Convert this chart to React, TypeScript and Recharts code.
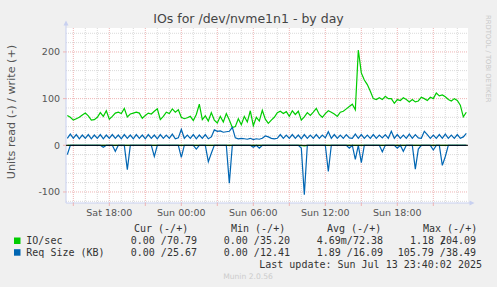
import React from 'react';
import { LineChart, Line, XAxis, YAxis, CartesianGrid, ReferenceLine } from 'recharts';

// time axis: hours since Sat 00:00, one sample every 15 minutes
const startHour = 14.5;
const stepHours = 0.25;

// IO/sec write (+)
const ioWrite = [
  64, 60, 54, 57, 60, 65, 69, 63, 54, 55,
  60, 70, 62, 74, 56, 62, 69, 71, 68, 79,
  61, 67, 69, 71, 69, 58, 64, 69, 67, 73,
  78, 55, 62, 71, 68, 78, 71, 76, 60, 57,
  59, 62, 53, 66, 88, 55, 63, 52, 70, 54,
  48, 62, 50, 68, 54, 38, 40, 57, 44, 62,
  50, 74, 42, 60, 52, 75, 56, 47, 54, 60,
  70, 73, 68, 72, 62, 74, 66, 73, 54, 61,
  70, 64, 71, 79, 66, 60, 68, 74, 71, 67,
  62, 71, 73, 78, 83, 88, 76, 204.09, 155, 140,
  130, 116, 100, 98, 102, 98, 105, 100, 100, 90,
  98, 96, 102, 98, 93, 98, 93, 95, 103, 100,
  96, 103, 100, 112, 106, 108, 104, 98, 95, 100,
  96, 86, 61, 70.79,
];

// IO/sec read (-)
const ioRead = [
  0, 0, 0, 0, 0, 0, 0, 0, 0, 0,
  0, 0, 0, 0, 0, 0, 0, 0, 0, 0,
  0, 0, 0, 0, 0, 0, 0, 0, 0, 0,
  0, 0, 0, 0, 0, 0, 0, 0, 0, 0,
  0, 0, 0, 0, 0, 0, 0, 0, 0, 0,
  0, 0, 0, 0, 0, 0, 0, 0, 0, 0,
  0, 0, 0, 0, 0, 0, 0, 0, 0, 0,
  0, 0, 0, 0, 0, 0, 0, 0, 0, -1.18,
  0, 0, 0, 0, 0, 0, 0, 0, 0, 0,
  0, 0, 0, 0, 0, 0, 0, 0, 0, 0,
  0, 0, 0, 0, 0, 0, 0, 0, 0, 0,
  0, 0, 0, 0, 0, 0, 0, 0, 0, 0,
  0, 0, 0, 0, 0, 0, 0, 0, 0, 0,
  0, 0, 0, 0,
];

// Req Size (KB) write (+)
const reqWrite = [
  15, 24, 15, 23, 14, 22, 15, 23, 14, 22,
  15, 23, 14, 22, 15, 23, 15, 22, 14, 23,
  15, 22, 14, 23, 15, 22, 14, 23, 15, 22,
  14, 23, 15, 22, 15, 24, 14, 16, 34, 15,
  22, 15, 23, 14, 22, 15, 23, 14, 18, 33,
  30, 31, 28, 29, 30, 38.49, 16, 14, 15, 14,
  13, 15, 12.41, 14, 13, 15, 20, 18, 15, 14,
  15, 23, 15, 22, 15, 23, 15, 22, 14, 23,
  15, 22, 15, 23, 15, 22, 16, 29, 15, 23,
  15, 22, 15, 23, 16, 15, 24, 15, 23, 15,
  22, 15, 23, 15, 22, 16, 23, 15, 30, 15,
  23, 15, 22, 15, 24, 15, 23, 16, 15, 30,
  23, 15, 22, 15, 23, 15, 24, 15, 22, 15,
  23, 15, 18, 25.67,
];

// Req Size (KB) read (-)
const reqRead = [
  -20, 0, 0, 0, 0, 0, 0, 0, 0, 0,
  0, 0, -4, 0, 0, 0, -13, 0, 0, 0,
  -52, 0, 0, 0, 0, 0, 0, 0, 0, -24,
  0, 0, 0, 0, 0, 0, 0, 0, -26, 0,
  0, 0, 0, -8, 0, 0, 0, -35, -17, 0,
  0, 0, 0, 0, -81, 0, 0, 0, 0, 0,
  0, 0, -4, 0, -6, 0, 0, 0, 0, 0,
  0, 0, 0, 0, 0, 0, 0, 0, -6, -105.79,
  0, 0, 0, 0, 0, 0, 0, -56, 0, 0,
  0, 0, 0, 0, -6, 0, -30, 0, -37, 0,
  0, 0, 0, 0, 0, -14, 0, 0, 0, 0,
  -6, 0, -13, 0, 0, 0, -51, -8, 0, 0,
  0, 0, -10, 0, 0, -43, -24, 0, 0, 0,
  0, 0, 0, 0,
];

// axis ticks
const majorHours = [15, 18, 21, 24, 27, 30, 33, 36, 39, 42, 45];
const minorHours = [16, 17, 19, 20, 22, 23, 25, 26, 28, 29, 31, 32, 34, 35, 37, 38, 40, 41, 43, 44, 46, 47];
const xLabelHours = [18, 24, 30, 36, 42];
const xLabels = ['Sat 18:00', 'Sun 00:00', 'Sun 06:00', 'Sun 12:00', 'Sun 18:00'];
const yMajor = [-100, 0, 100, 200];
const yMinor = [-120, -80, -60, -40, -20, 20, 40, 60, 80, 120, 140, 160, 180, 220, 240];

// legend
const seriesNames = ['IO/sec', 'Req Size (KB)'];
const seriesColors = ['#00cc00', '#0066b3'];
const curVals = ['0.00 /70.79', '0.00 /25.67'];
const minVals = ['0.00 /35.20', '0.00 /12.41'];
const avgVals = ['4.69m/72.38', '1.89 /16.09'];
const maxVals = ['1.18 /204.09', '105.79 /38.49'];

const data = ioWrite.map((v, i) => ({
  t: startHour + i * stepHours,
  ioW: v,
  ioR: ioRead[i],
  rqW: reqWrite[i],
  rqR: reqRead[i],
}));

const MONO = 'DejaVu Sans Mono, monospace';
const SANS = 'DejaVu Sans, sans-serif';
const AXIS = '#c8d0f0';
const MGRID = '#eeb4b4';
const GRID = '#dadada';

export default function App() {
  const fmtX = (v: number) => {
    const k = xLabelHours.indexOf(v);
    return k >= 0 ? xLabels[k] : '';
  };
  return (
    <div style={{ position: 'relative', width: 497, height: 287, background: '#f0f0f0', overflow: 'hidden' }}>
      <style>{'body{margin:0}'}</style>
      <LineChart
        width={497}
        height={287}
        data={data}
        margin={{ top: 28, right: 29, bottom: 64, left: 0 }}
      >
        <CartesianGrid
          fill="#ffffff"
          stroke={MGRID}
          strokeDasharray="1 1"
          horizontalValues={yMajor}
          verticalValues={majorHours}
        />
        {minorHours.map((h) => (
          <ReferenceLine key={'mh' + h} x={h} stroke={GRID} strokeDasharray="1 1" zIndex={-50} />
        ))}
        {yMinor.map((v) => (
          <ReferenceLine key={'mv' + v} y={v} stroke={GRID} strokeDasharray="1 1" zIndex={-50} />
        ))}
        <XAxis
          dataKey="t"
          type="number"
          domain={[14.39, 47.89]}
          allowDataOverflow
          ticks={majorHours}
          interval={0}
          tickFormatter={fmtX}
          height={20}
          axisLine={{ stroke: AXIS }}
          tickLine={{ stroke: MGRID }}
          tickSize={3}
          tickMargin={3}
          tick={{ fill: '#555', fontSize: 9.5, fontFamily: SANS }}
        />
        <YAxis
          type="number"
          domain={[-123.6, 251.3]}
          allowDataOverflow
          ticks={yMajor}
          interval={0}
          width={66}
          axisLine={{ stroke: AXIS }}
          tickLine={{ stroke: MGRID }}
          tickSize={3}
          tickMargin={3}
          tick={{ fill: '#555', fontSize: 9.5, fontFamily: SANS }}
        />
        <Line type="linear" dataKey="ioR" stroke={seriesColors[0]} strokeWidth={1.2} dot={false} activeDot={false} isAnimationActive={false} />
        <Line type="linear" dataKey="ioW" stroke={seriesColors[0]} strokeWidth={1.2} dot={false} activeDot={false} isAnimationActive={false} />
        <Line type="linear" dataKey="rqR" stroke={seriesColors[1]} strokeWidth={1.2} dot={false} activeDot={false} isAnimationActive={false} />
        <Line type="linear" dataKey="rqW" stroke={seriesColors[1]} strokeWidth={1.2} dot={false} activeDot={false} isAnimationActive={false} />
        <ReferenceLine y={0} stroke="#000000" strokeWidth={1} zIndex={1000} />
      </LineChart>
      <svg
        width={497}
        height={287}
        style={{ position: 'absolute', left: 0, top: 0, pointerEvents: 'none' }}
      >
        <text x={248.5} y={23} textAnchor="middle" fontFamily={SANS} fontSize={12.5} fill="#444">
          IOs for /dev/nvme1n1 - by day
        </text>
        <text
          x={11}
          y={112}
          transform="rotate(-90 11 112)"
          textAnchor="middle"
          dominantBaseline="central"
          fontFamily={SANS}
          fontSize={11.2}
          fill="#555"
        >
          Units read (-) / write (+)
        </text>
        <text
          x={487.5}
          y={15}
          transform="rotate(90 487.5 15)"
          textAnchor="start"
          dominantBaseline="central"
          fontFamily={SANS}
          fontSize={6.8}
          fill="#c8c8c8"
        >
          RRDTOOL / TOBI OETIKER
        </text>
        {/* axis arrows */}
        <line x1={66} y1={28} x2={66} y2={23} stroke={AXIS} />
        <polygon points="63.5,25.5 68.5,25.5 66,20.5" fill={AXIS} />
        <line x1={468} y1={203} x2={471} y2={203} stroke={AXIS} />
        <polygon points="469.5,200.5 469.5,205.5 474.5,203" fill={AXIS} />

        <g fontFamily={MONO} fontSize={10} fill="#333">
          <text x={134} y={232}>Cur (-/+)</text>
          <text x={231} y={232}>Min (-/+)</text>
          <text x={327} y={232}>Avg (-/+)</text>
          <text x={423} y={232}>Max (-/+)</text>
          {seriesNames.map((n, r) => {
            const y = 244 + r * 11.7;
            const mx = maxVals[r];
            const slash = mx.indexOf('/');
            const left = mx.slice(0, slash + 1);
            const right = mx.slice(slash + 1);
            return (
              <g key={n}>
                <rect x={14} y={y - 6.5} width={6.5} height={6.5} fill={seriesColors[r]} />
                <text x={26.3} y={y}>{n}</text>
                <text x={197} y={y} textAnchor="end">{curVals[r]}</text>
                <text x={290} y={y} textAnchor="end">{minVals[r]}</text>
                <text x={383} y={y} textAnchor="end">{avgVals[r]}</text>
                {r === 0 ? (
                  <>
                    <text x={410} y={y}>{left}</text>
                    <text x={476} y={y} textAnchor="end">{right}</text>
                  </>
                ) : (
                  <text x={476} y={y} textAnchor="end">{mx}</text>
                )}
              </g>
            );
          })}
          <text x={482} y={267.5} textAnchor="end">Last update: Sun Jul 13 23:40:02 2025</text>
        </g>
        <text x={248} y={279} textAnchor="middle" fontFamily={SANS} fontSize={7.6} fill="#cccccc">
          Munin 2.0.56
        </text>
      </svg>
    </div>
  );
}
